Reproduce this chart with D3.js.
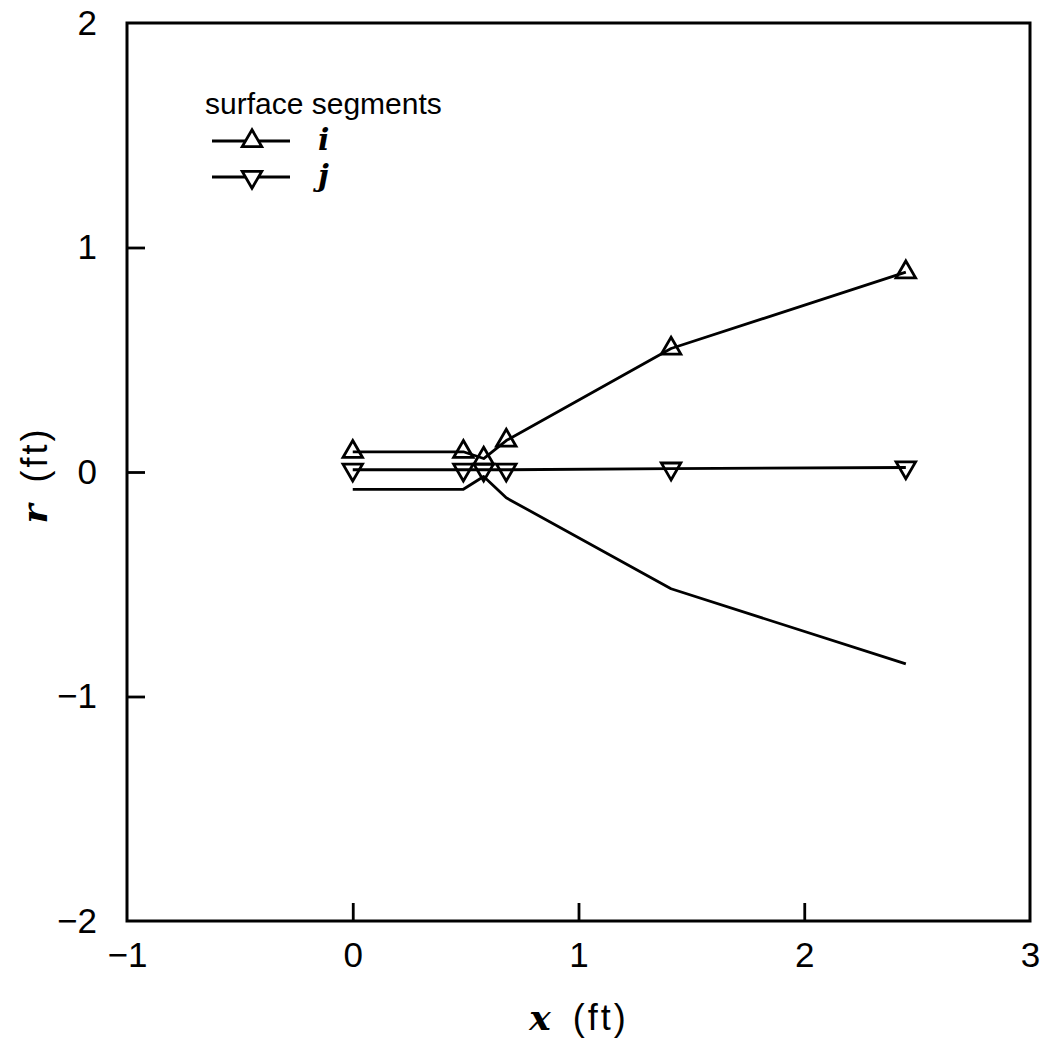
<!DOCTYPE html>
<html>
<head>
<meta charset="utf-8">
<script src="https://cdn.jsdelivr.net/npm/d3@7"></script>
<style>
  html, body { margin: 0; padding: 0; background: #fff; }
  svg { display: block; }
</style>
</head>
<body>
<svg id="chart" width="1046" height="1054"></svg>
<script>
// ---- data ----
const xTicks = [-1, 0, 1, 2, 3];
const yTicks = [-2, -1, 0, 1, 2];
const segX = [0, 0.49, 0.58, 0.68, 1.41, 2.45];
const segI = [0.09, 0.09, 0.06, 0.14, 0.55, 0.89];      // surface segment i (upper)
const segJ = [0.01, 0.01, 0.01, 0.01, 0.015, 0.02];     // surface segment j
const segLower = [-0.077, -0.077, -0.02, -0.115, -0.52, -0.855]; // mirror branch (no markers)
const legendTitle = "surface segments";
const legendNames = ["i", "j"];

// ---- layout ----
const svg = d3.select("#chart");
const x = d3.scaleLinear().domain([-1, 3]).range([127, 1030]);
const y = d3.scaleLinear().domain([-2, 2]).range([921, 23]);
const sansFont = "Liberation Sans, Arial, sans-serif";
const sw = 2.8;

// frame
svg.append("rect")
  .attr("x", x(-1)).attr("y", y(2))
  .attr("width", x(3) - x(-1)).attr("height", y(-2) - y(2))
  .attr("fill", "none").attr("stroke", "#000").attr("stroke-width", 3);

// bottom axis (ticks inward)
const xAxis = d3.axisBottom(x).tickValues(xTicks).tickSizeInner(-18).tickSizeOuter(0)
  .tickPadding(28).tickFormat(d => d < 0 ? "\u2212" + Math.abs(d) : d);
const gx = svg.append("g").attr("transform", `translate(0,${y(-2)})`).call(xAxis);
gx.select(".domain").remove();
gx.selectAll(".tick line").attr("stroke-width", sw)
  .filter(d => d === -1 || d === 3).remove();
gx.selectAll(".tick text").attr("font-family", sansFont).attr("font-size", 35).attr("fill", "#000")
  .attr("dy", "0.5em");

// left axis (ticks inward)
const yAxis = d3.axisLeft(y).tickValues(yTicks).tickSizeInner(-18).tickSizeOuter(0)
  .tickPadding(30).tickFormat(d => d < 0 ? "\u2212" + Math.abs(d) : d);
const gy = svg.append("g").attr("transform", `translate(${x(-1)},0)`).call(yAxis);
gy.select(".domain").remove();
gy.selectAll(".tick line").attr("stroke-width", sw)
  .filter(d => d === -2 || d === 2).remove();
gy.selectAll(".tick text").attr("font-family", sansFont).attr("font-size", 35).attr("fill", "#000");

// axis titles
const xt = svg.append("text").attr("x", 579).attr("y", 1030).attr("text-anchor", "middle")
  .attr("font-size", 36).attr("fill", "#000");
xt.append("tspan").attr("font-family", "DejaVu Serif, serif").attr("font-style", "italic")
  .attr("font-weight", "bold").text("x");
xt.append("tspan").attr("font-family", sansFont).attr("dx", 22).attr("letter-spacing", 3).text("(ft)");

const yt = svg.append("text").attr("transform", `translate(47,475) rotate(-90)`)
  .attr("text-anchor", "middle").attr("font-size", 36).attr("fill", "#000");
yt.append("tspan").attr("font-family", "DejaVu Serif, serif").attr("font-style", "italic")
  .attr("font-weight", "bold").text("r");
yt.append("tspan").attr("font-family", sansFont).attr("dx", 22).attr("letter-spacing", 3).text("(ft)");

// lines
const line = d3.line().x(d => x(d[0])).y(d => y(d[1]));
const series = [
  { vals: segI, marker: "up" },
  { vals: segJ, marker: "down" },
  { vals: segLower, marker: null }
];
const triUp = d3.symbol().type(d3.symbolTriangle).size(165);
series.forEach(s => {
  const pts = segX.map((v, i) => [v, s.vals[i]]);
  svg.append("path").attr("d", line(pts)).attr("fill", "none")
    .attr("stroke", "#000").attr("stroke-width", sw).attr("stroke-linejoin", "round");
  if (s.marker) {
    svg.append("g").selectAll("path").data(pts).join("path")
      .attr("d", triUp())
      .attr("transform", d => `translate(${x(d[0])},${y(d[1])})` + (s.marker === "down" ? " rotate(180)" : ""))
      .attr("fill", "none").attr("stroke", "#000").attr("stroke-width", sw);
  }
});

// legend
svg.append("text").attr("x", 205).attr("y", 114).attr("font-family", sansFont)
  .attr("font-size", 30).attr("fill", "#000").text(legendTitle);
const legRows = [141, 177];
legendNames.forEach((n, i) => {
  const ly = legRows[i];
  svg.append("line").attr("x1", 212).attr("x2", 290).attr("y1", ly).attr("y2", ly)
    .attr("stroke", "#000").attr("stroke-width", sw);
  svg.append("path").attr("d", triUp())
    .attr("transform", `translate(252,${ly})` + (i === 1 ? " rotate(180)" : ""))
    .attr("fill", "#fff").attr("stroke", "#000").attr("stroke-width", sw);
  svg.append("text").attr("x", 318).attr("y", ly + 9)
    .attr("font-family", "DejaVu Serif, serif").attr("font-style", "italic").attr("font-weight", "bold")
    .attr("font-size", 30).attr("fill", "#000").text(n);
});
</script>
</body>
</html>
